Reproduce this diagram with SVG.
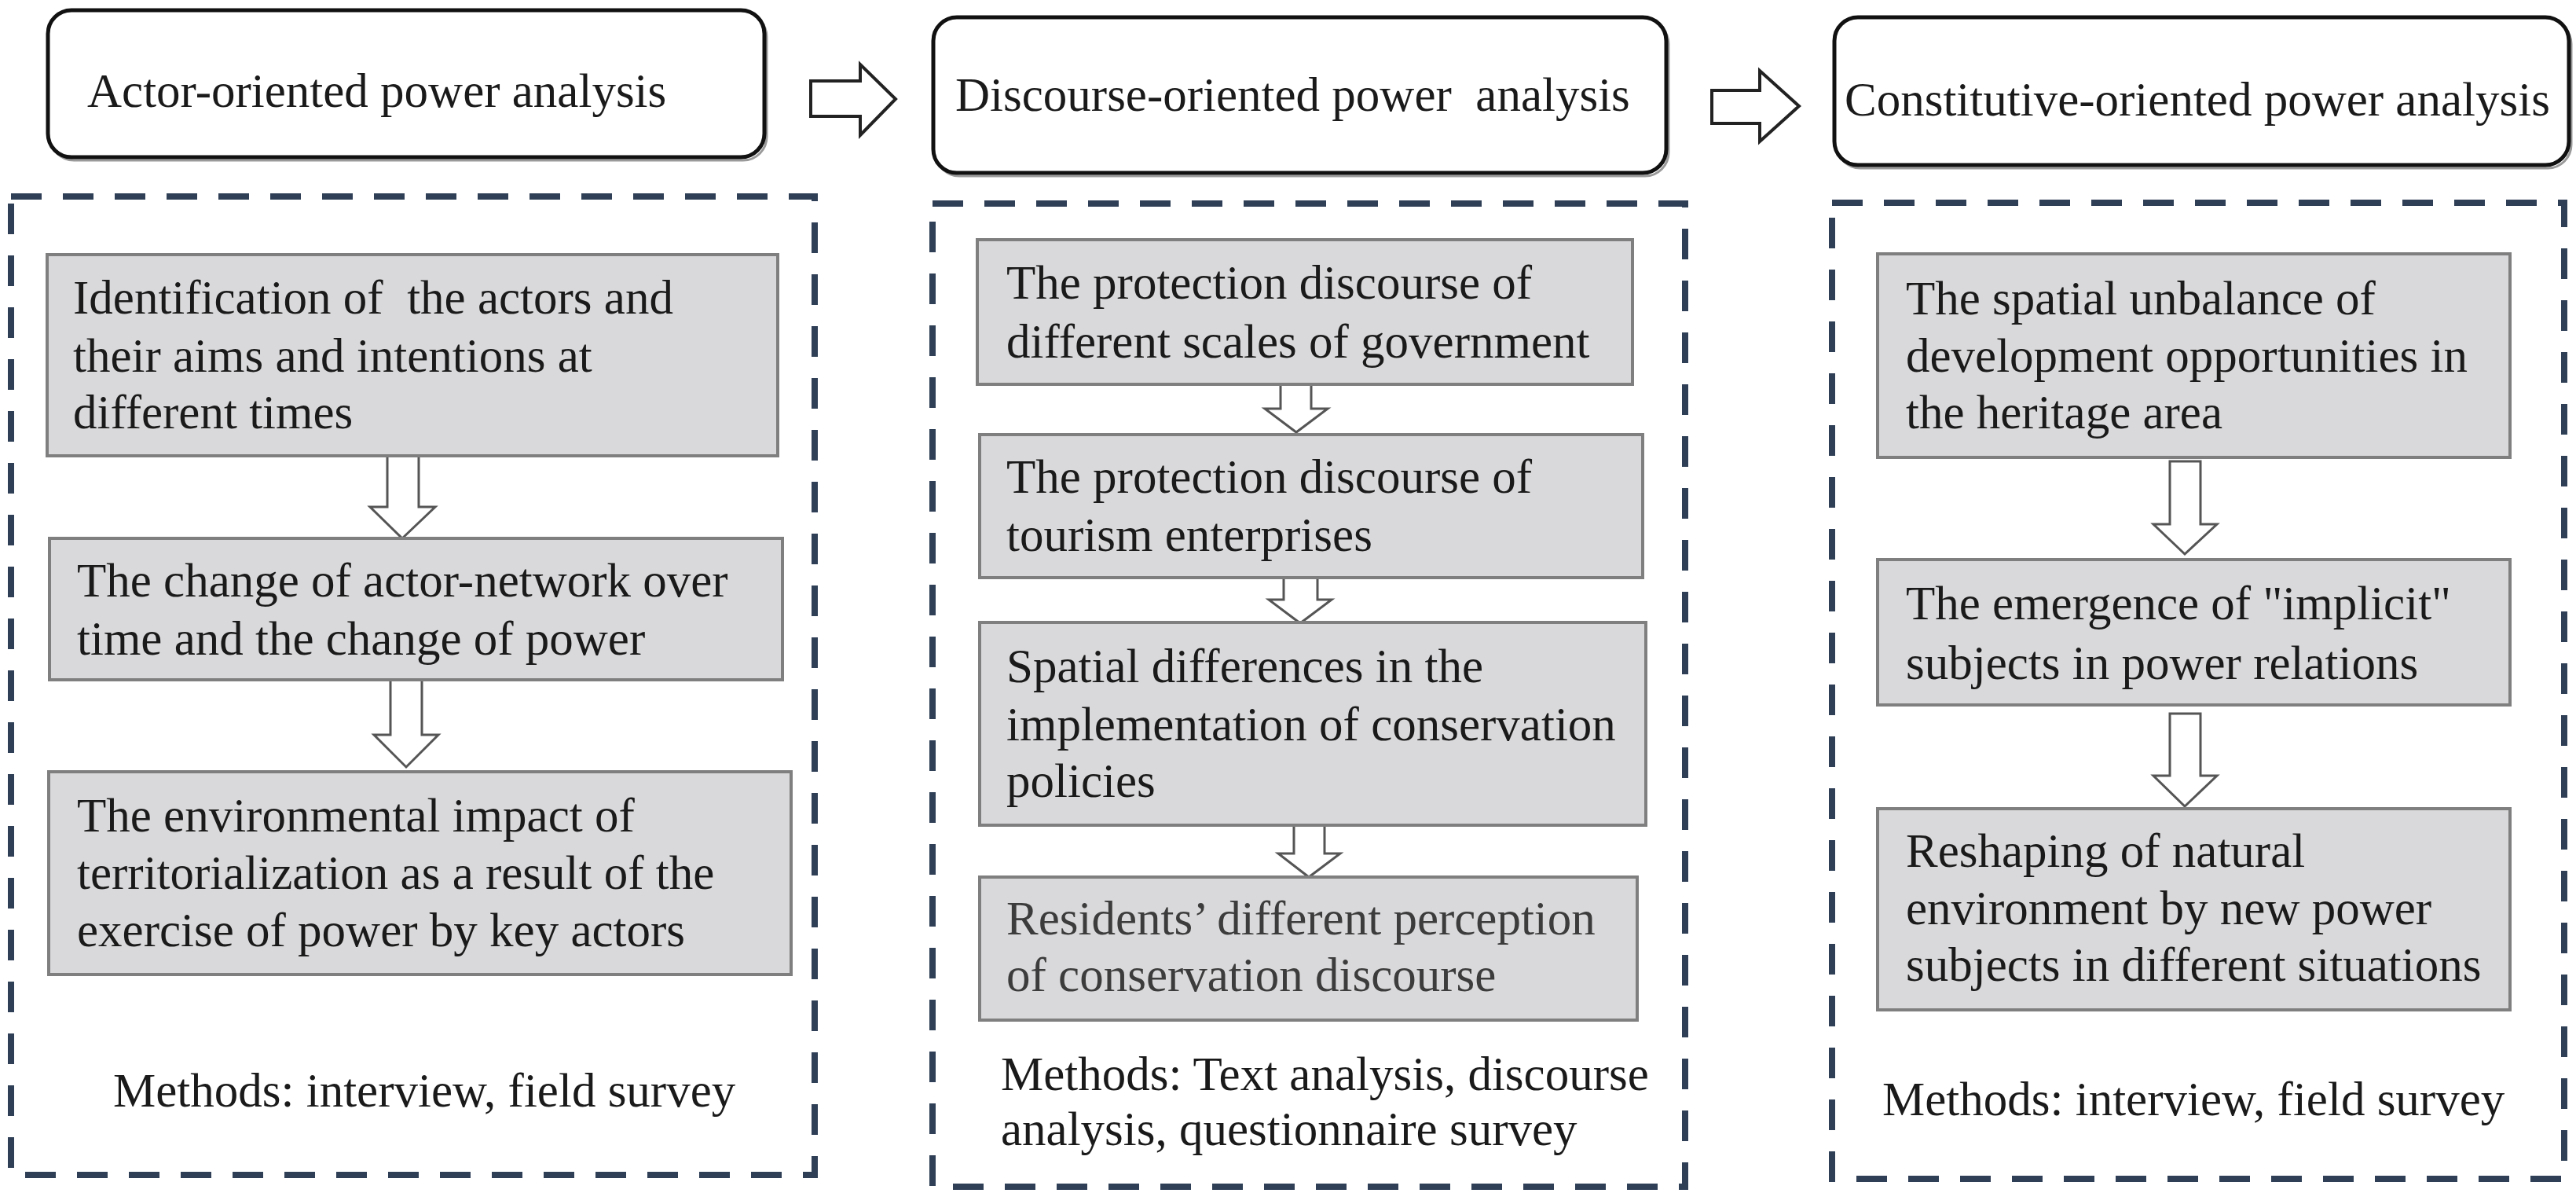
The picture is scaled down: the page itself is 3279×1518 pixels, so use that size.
<svg xmlns="http://www.w3.org/2000/svg" width="3279" height="1518" viewBox="0 0 3279 1518">
<style>
.hdr{fill:#ffffff;stroke:#111111;stroke-width:5}
.hsh{fill:none;stroke:#9a9a9a;stroke-width:3}
.frame{fill:none;stroke:#2f3f56;stroke-width:8;stroke-dasharray:39 27}
.gbox{fill:#d9d9db;stroke:#7f7f7f;stroke-width:4}
.arr{fill:#ffffff;stroke:#555555;stroke-width:3;stroke-linejoin:miter}
.harr{fill:#ffffff;stroke:#222222;stroke-width:4;stroke-linejoin:miter}
text{font-family:"Liberation Serif","Times New Roman",serif;font-size:61px;fill:#1a1a1a}
.soft{fill:#3c3c3c}
</style>
<rect width="3279" height="1518" fill="#ffffff"/>

<g id="connectors">
  <path class="harr" d="M1032,103 H1095 V82 L1140,126 L1095,172 V148 H1032 Z"/>
  <path class="harr" d="M2179,115 H2240 V90 L2290,135 L2240,180 V157 H2179 Z"/>
  <path class="arr" d="M493,580 V645 H471 L512,685 L554,645 H533 V580"/>
  <path class="arr" d="M497,866 V935 H476 L517,976 L558,935 H537 V866"/>
  <path class="arr" d="M1630,489 V520 H1610 L1650,550 L1690,520 H1669 V489"/>
  <path class="arr" d="M1634,737 V763 H1615 L1655,793 L1695,763 H1677 V737"/>
  <path class="arr" d="M1647,1052 V1086 H1627 L1666,1116 L1706,1086 H1686 V1052"/>
  <path class="arr" d="M2762,587 V667 H2741 L2781,705 L2822,667 H2801 V587 Z"/>
  <path class="arr" d="M2762,908 V987 H2741 L2781,1026 L2822,987 H2801 V908 Z"/>
</g>

<g id="header-actor">
  <rect class="hsh" x="64" y="17" width="912" height="187" rx="30"/>
  <rect class="hdr" x="61" y="13" width="912" height="187" rx="30"/>
  <text x="111" y="136">Actor-oriented power analysis</text>
</g>
<g id="header-discourse">
  <rect class="hsh" x="1191" y="26" width="933" height="198" rx="30"/>
  <rect class="hdr" x="1188" y="22" width="933" height="198" rx="30"/>
  <text x="1216" y="141" xml:space="preserve">Discourse-oriented power  analysis</text>
</g>
<g id="header-constitutive">
  <rect class="hsh" x="2338" y="26" width="935" height="188" rx="30"/>
  <rect class="hdr" x="2335" y="22" width="935" height="188" rx="30"/>
  <text x="2348" y="147">Constitutive-oriented power analysis</text>
</g>

<g id="frame-actor">
  <rect class="frame" x="14" y="250" width="1023" height="1245"/>
  <text x="144" y="1408">Methods: interview, field survey</text>
</g>
<g id="frame-discourse">
  <rect class="frame" x="1187" y="259" width="958" height="1251"/>
  <text x="1274" y="1387">Methods: Text analysis, discourse</text>
  <text x="1274" y="1457">analysis, questionnaire survey</text>
</g>
<g id="frame-constitutive">
  <rect class="frame" x="2332" y="258" width="932" height="1242"/>
  <text x="2396" y="1419">Methods: interview, field survey</text>
</g>

<g id="actor-1">
  <rect class="gbox" x="60" y="324" width="930" height="256"/>
  <text x="93" y="399" xml:space="preserve">Identification of  the actors and</text>
  <text x="93" y="473">their aims and intentions at</text>
  <text x="93" y="545">different times</text>
</g>
<g id="actor-2">
  <rect class="gbox" x="63" y="685" width="933" height="180"/>
  <text x="98" y="759">The change of actor-network over</text>
  <text x="98" y="833">time and the change of power</text>
</g>
<g id="actor-3">
  <rect class="gbox" x="62" y="982" width="945" height="258"/>
  <text x="98" y="1058">The environmental impact of</text>
  <text x="98" y="1131">territorialization as a result of the</text>
  <text x="98" y="1204">exercise of power by key actors</text>
</g>

<g id="discourse-1">
  <rect class="gbox" x="1244" y="305" width="834" height="184"/>
  <text x="1281" y="380">The protection discourse of</text>
  <text x="1281" y="455">different scales of government</text>
</g>
<g id="discourse-2">
  <rect class="gbox" x="1247" y="553" width="844" height="182"/>
  <text x="1281" y="627">The protection discourse of</text>
  <text x="1281" y="701">tourism enterprises</text>
</g>
<g id="discourse-3">
  <rect class="gbox" x="1247" y="792" width="848" height="258"/>
  <text x="1281" y="868">Spatial differences in the</text>
  <text x="1281" y="942">implementation of conservation</text>
  <text x="1281" y="1014">policies</text>
</g>
<g id="discourse-4">
  <rect class="gbox" x="1247" y="1116" width="837" height="182"/>
  <text class="soft" x="1281" y="1189">Residents’ different perception</text>
  <text class="soft" x="1281" y="1261">of conservation discourse</text>
</g>

<g id="constitutive-1">
  <rect class="gbox" x="2390" y="323" width="805" height="259"/>
  <text x="2426" y="400">The spatial unbalance of</text>
  <text x="2426" y="473">development opportunities in</text>
  <text x="2426" y="545">the heritage area</text>
</g>
<g id="constitutive-2">
  <rect class="gbox" x="2390" y="712" width="805" height="185"/>
  <text x="2426" y="788">The emergence of "implicit"</text>
  <text x="2426" y="864">subjects in power relations</text>
</g>
<g id="constitutive-3">
  <rect class="gbox" x="2390" y="1029" width="805" height="256"/>
  <text x="2426" y="1103">Reshaping of natural</text>
  <text x="2426" y="1176">environment by new power</text>
  <text x="2426" y="1248">subjects in different situations</text>
</g>
</svg>
